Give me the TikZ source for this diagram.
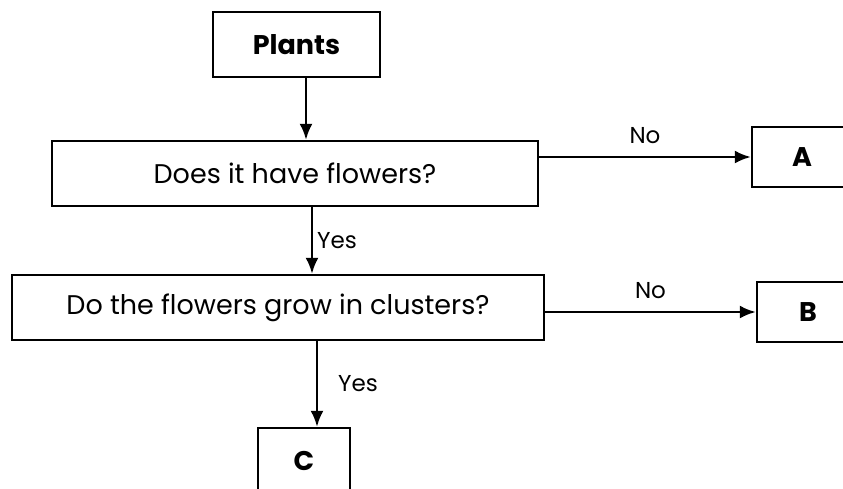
\documentclass[tikz,border=0pt]{standalone}
\usepackage{fontspec}
\setmainfont{Poppins}
\usetikzlibrary{arrows.meta}
\begin{document}
\begin{tikzpicture}[x=1pt,y=-1pt,
  box/.style={draw,line width=2.4pt,rectangle,inner sep=0pt,font=\fontsize{27}{32}\selectfont},
  bbox/.style={box,font=\fontsize{27}{32}\selectfont\bfseries},
  arr/.style={line width=2.4pt,-{Latex[length=16pt,width=13pt]}},
  lbl/.style={font=\fontsize{23}{27}\selectfont,inner sep=0pt}]
\useasboundingbox (0,0) rectangle (843,488);
\clip (0,0) rectangle (843,488);
\node[bbox,minimum width=167pt,minimum height=65pt] (plants) at (296.5,44.5) {Plants};
\node[box,minimum width=486pt,minimum height=65pt] (q1) at (295,173.5) {Does it have flowers?};
\node[bbox,minimum width=100pt,minimum height=60pt] (A) at (802,157) {A};
\node[box,minimum width=532pt,minimum height=65pt] (q2) at (278,307.5) {Do the flowers grow in clusters?};
\node[bbox,minimum width=102pt,minimum height=60pt] (B) at (808,312) {B};
\node[bbox,minimum width=92pt,minimum height=66pt] (C) at (304,461) {C};
\draw[arr] ([xshift=9.5pt]plants.south) -- ([xshift=9.5pt]plants.south |- q1.north);
\draw[arr] (A.west -| q1.east) -- (A.west) node[lbl,midway,above=12pt] (no1) {No};
\draw[arr] ([xshift=17pt]q1.south) -- ([xshift=17pt]q1.south |- q2.north) node[lbl,midway,right=4pt] (yes1) {Yes};
\draw[arr] (B.west -| q2.east) -- (B.west) node[lbl,midway,above=12pt] (no2) {No};
\draw[arr] ([xshift=39pt]q2.south) -- ([xshift=39pt]q2.south |- C.north) node[lbl,midway,right=20pt] (yes2) {Yes};
\end{tikzpicture}
\end{document}
